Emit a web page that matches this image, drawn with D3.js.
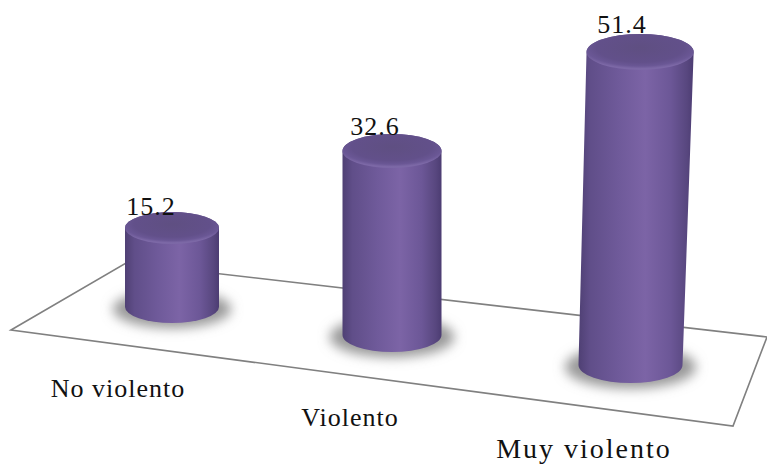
<!DOCTYPE html>
<html><head><meta charset="utf-8">
<script src="https://cdn.jsdelivr.net/npm/d3@7"></script>
<style>html,body{margin:0;padding:0;background:#fff}svg{display:block}text{font-family:"Liberation Serif",serif;fill:#111}</style>
</head><body><script>
const categories = ["No violento","Violento","Muy violento"];
const values = [15.2,32.6,51.4];
const W=767,H=465;
const svg=d3.select("body").append("svg").attr("width",W).attr("height",H);
const cxBase=d3.scaleLinear().domain([0,1,2]).range([172,392,630.5]);
const lean=d3.scaleLinear().domain([0,1,2]).range([0,0,9.6]);
const baseY=d3.scaleLinear().domain([0,1,2]).range([307,335,365]);
const unit=d3.scaleLinear().domain([0,2]).range([5.2,6.09]);
const radius=d3.scaleLinear().domain([0,2]).range([47,52]);
const ry=d3.scaleLinear().domain([0,2]).range([16,18]);
const valueX=d3.scaleLinear().domain([0,1,2]).range([151,375,622]);
const valueLift=d3.scaleLinear().domain([0,2]).range([-1,3]);
const defs=svg.append("defs");
const bodyGrad=defs.append("linearGradient").attr("id","body");
[[0,"#4f4074"],[.1,"#604e89"],[.35,"#6f5a9a"],[.58,"#7c64a6"],[.8,"#6c5797"],[.94,"#58477f"],[1,"#4c3c72"]]
 .forEach(s=>bodyGrad.append("stop").attr("offset",s[0]).attr("stop-color",s[1]));
const capGrad=defs.append("radialGradient").attr("id","cap").attr("cy",.38).attr("r",.58);
[[0,"#5f4f82"],[.7,"#62508a"],[.88,"#6a5795"],[1,"#7c68a6"]]
 .forEach(s=>capGrad.append("stop").attr("offset",s[0]).attr("stop-color",s[1]));
defs.append("filter").attr("id","blur").attr("x","-30%").attr("y","-50%").attr("width","160%").attr("height","200%")
 .append("feGaussianBlur").attr("stdDeviation",6);
const floorPts=[[11,330],[126,263],[767,337],[733,426]];
svg.append("polygon").attr("points",floorPts.join(" ")).attr("fill","#fff").attr("stroke","#808080").attr("stroke-width",1.6);
const g=svg.selectAll("g.bar").data(categories.map((c,i)=>({c,v:values[i],i}))).join("g").attr("class","bar");
g.append("ellipse").attr("filter","url(#blur)").attr("fill","#999")
 .attr("cx",d=>cxBase(d.i)).attr("cy",d=>baseY(d.i)+2)
 .attr("rx",d=>radius(d.i)*1.26).attr("ry",d=>ry(d.i)*1.2);
g.append("path").attr("fill","url(#body)").attr("d",d=>{
 const r=radius(d.i),ra=ry(d.i),x0=cxBase(d.i),y0=baseY(d.i);
 const x1=x0+lean(d.i), r1=r*(d.i===2?1.03:1),y1=y0-d.v*unit(d.i);
 return `M${x0-r},${y0}A${r},${ra} 0 0 0 ${x0+r},${y0}L${x1+r1},${y1}A${r1},${ra} 0 0 0 ${x1-r1},${y1}Z`;
});
g.append("ellipse").attr("fill","url(#cap)")
 .attr("cx",d=>cxBase(d.i)+lean(d.i)).attr("cy",d=>baseY(d.i)-d.v*unit(d.i))
 .attr("rx",d=>radius(d.i)*(d.i===2?1.03:1)).attr("ry",d=>ry(d.i));
g.append("text").attr("text-anchor","middle").attr("font-size",26).attr("letter-spacing",1)
 .attr("x",d=>valueX(d.i)).attr("y",d=>baseY(d.i)-d.v*unit(d.i)-ry(d.i)+2-valueLift(d.i))
 .text(d=>d.v);
const labelX=d3.scaleLinear().domain([0,1,2]).range([118,350,584]);
const labelY=d3.scaleLinear().domain([0,1,2]).range([397,426,458]);
const labelSize=d3.scaleLinear().domain([0,1,2]).range([26,26,28]);
const labelSpacing=d3.scaleLinear().domain([0,1,2]).range([1,1,2]);
svg.selectAll("text.cat").data(categories).join("text").attr("class","cat").attr("text-anchor","middle")
 .attr("font-size",(d,i)=>labelSize(i)).attr("letter-spacing",(d,i)=>labelSpacing(i))
 .attr("x",(d,i)=>labelX(i)).attr("y",(d,i)=>labelY(i)).text(d=>d);
</script></body></html>
